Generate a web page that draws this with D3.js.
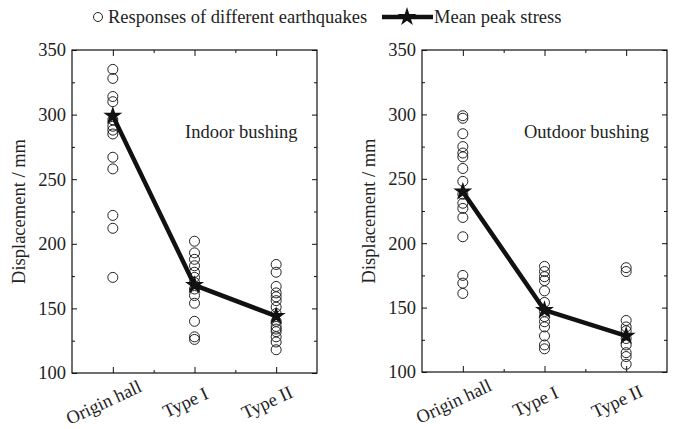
<!DOCTYPE html>
<html>
<head>
<meta charset="utf-8">
<script src="https://cdn.jsdelivr.net/npm/d3@7"></script>
<style>
  body { margin: 0; background: #fff; }
  svg text { font-family: "Liberation Serif", "Times New Roman", serif; fill: #222; }
</style>
</head>
<body>
<div id="chart"></div>
<script>
// categories & tick labels
var categories = ["Origin hall", "Type I", "Type II"];
var yTicks = [100, 150, 200, 250, 300, 350];
var yMinorTicks = [125, 175, 225, 275, 325];

// indoor bushing responses (mm)
var indoorOrigin = [335, 328, 314, 310, 296, 291, 288, 285, 267, 258, 222, 212, 174];
var indoorType1 = [202, 193, 188, 183, 178, 174, 170, 165, 160, 154, 140, 128, 126];
var indoorType2 = [184, 178, 167, 162, 159, 156, 151, 146, 140, 136, 134, 132, 128, 124, 118];
var indoorMean = [299, 168, 144];

// outdoor bushing responses (mm)
var outdoorOrigin = [299, 297, 285, 275, 270, 267, 258, 248, 238, 231, 227, 220, 205, 175, 169, 161];
var outdoorType1 = [182, 178, 174, 171, 163, 154, 147, 143, 139, 135, 128, 121, 118];
var outdoorType2 = [181, 178, 140, 135, 132, 126, 121, 115, 112, 106];
var outdoorMean = [240, 148, 128];

var width = 675, height = 429;

var svg = d3.select("#chart").append("svg")
    .attr("width", width)
    .attr("height", height);

var panels = [
    { label: "Indoor bushing", x0: 72, x1: 317, y0: 50, y1: 373, labelX: 185,
      groups: [indoorOrigin, indoorType1, indoorType2], mean: indoorMean },
    { label: "Outdoor bushing", x0: 422, x1: 667, y0: 50, y1: 372, labelX: 524,
      groups: [outdoorOrigin, outdoorType1, outdoorType2], mean: outdoorMean }
];

var starSize = 112;

function drawPanel(p) {
    var x = d3.scaleLinear().domain([0.5, 3.5]).range([p.x0, p.x1]);
    var y = d3.scaleLinear().domain([100, 350]).range([p.y1, p.y0]);
    var idx = categories.map(function(c, i) { return i + 1; });

    var g = svg.append("g");

    // frame
    g.append("rect")
        .attr("x", p.x0).attr("y", p.y0)
        .attr("width", p.x1 - p.x0).attr("height", p.y1 - p.y0)
        .attr("fill", "none").attr("stroke", "#111").attr("stroke-width", 1.2);

    // left axis with labels
    var left = g.append("g").attr("transform", "translate(" + p.x0 + ",0)")
        .call(d3.axisLeft(y).tickValues(yTicks).tickSize(-5).tickPadding(6));
    left.select(".domain").remove();
    left.selectAll("text").style("font-size", "18.5px").attr("fill", "#222");

    g.append("g").attr("transform", "translate(" + p.x0 + ",0)")
        .call(d3.axisLeft(y).tickValues(yMinorTicks).tickSize(-3).tickFormat(""))
        .select(".domain").remove();

    // mirrored right ticks
    g.append("g").attr("transform", "translate(" + p.x1 + ",0)")
        .call(d3.axisRight(y).tickValues(yTicks).tickSize(-5).tickFormat(""))
        .select(".domain").remove();
    g.append("g").attr("transform", "translate(" + p.x1 + ",0)")
        .call(d3.axisRight(y).tickValues(yMinorTicks).tickSize(-3).tickFormat(""))
        .select(".domain").remove();

    // bottom axis, labels centred and tilted
    var bottom = g.append("g").attr("transform", "translate(0," + p.y1 + ")")
        .call(d3.axisBottom(x).tickValues(idx).tickSize(-6)
            .tickFormat(function(d) { return categories[d - 1]; }));
    bottom.select(".domain").remove();
    bottom.selectAll("text")
        .style("font-size", "18.5px")
        .attr("text-anchor", "middle")
        .attr("y", 0).attr("dy", 0)
        .attr("transform", "translate(-7,35) rotate(-25)");

    g.append("g").attr("transform", "translate(0," + p.y1 + ")")
        .call(d3.axisBottom(x).tickValues([1.5, 2.5]).tickSize(-3).tickFormat(""))
        .select(".domain").remove();

    // mirrored top ticks
    g.append("g").attr("transform", "translate(0," + p.y0 + ")")
        .call(d3.axisTop(x).tickValues(idx).tickSize(-6).tickFormat(""))
        .select(".domain").remove();
    g.append("g").attr("transform", "translate(0," + p.y0 + ")")
        .call(d3.axisTop(x).tickValues([1.5, 2.5]).tickSize(-3).tickFormat(""))
        .select(".domain").remove();

    g.selectAll(".tick line").attr("stroke", "#111");

    // y title
    g.append("text")
        .attr("transform", "translate(" + (p.x0 - 47) + "," + ((p.y0 + p.y1) / 2) + ") rotate(-90)")
        .attr("text-anchor", "middle")
        .style("font-size", "18.5px")
        .text("Displacement / mm");

    // panel label
    g.append("text")
        .attr("x", p.labelX).attr("y", 138)
        .style("font-size", "18.5px")
        .text(p.label);

    // response circles
    p.groups.forEach(function(vals, i) {
        g.selectAll(null).data(vals).enter().append("circle")
            .attr("cx", x(i + 1))
            .attr("cy", function(d) { return y(d); })
            .attr("r", 5)
            .attr("fill", "none")
            .attr("stroke", "#222")
            .attr("stroke-width", 1);
    });

    // mean line + stars
    var line = d3.line()
        .x(function(d, i) { return x(i + 1); })
        .y(function(d) { return y(d); });
    g.append("path").datum(p.mean)
        .attr("d", line)
        .attr("fill", "none").attr("stroke", "#111").attr("stroke-width", 4.5);

    g.selectAll(null).data(p.mean).enter().append("path")
        .attr("d", d3.symbol().type(d3.symbolStar).size(starSize))
        .attr("transform", function(d, i) { return "translate(" + x(i + 1) + "," + y(d) + ")"; })
        .attr("fill", "#111");
}

panels.forEach(drawPanel);

// legend
var legend = svg.append("g");
legend.append("circle").attr("cx", 98).attr("cy", 17).attr("r", 4.5)
    .attr("fill", "none").attr("stroke", "#222");
legend.append("text").attr("x", 108).attr("y", 23).style("font-size", "18.5px")
    .text("Responses of different earthquakes");
legend.append("line").attr("x1", 382).attr("x2", 433).attr("y1", 17).attr("y2", 17)
    .attr("stroke", "#111").attr("stroke-width", 4.5);
legend.append("path")
    .attr("d", d3.symbol().type(d3.symbolStar).size(starSize))
    .attr("transform", "translate(407,17)")
    .attr("fill", "#111");
legend.append("text").attr("x", 434).attr("y", 23).style("font-size", "18.5px")
    .text("Mean peak stress");
</script>
</body>
</html>
